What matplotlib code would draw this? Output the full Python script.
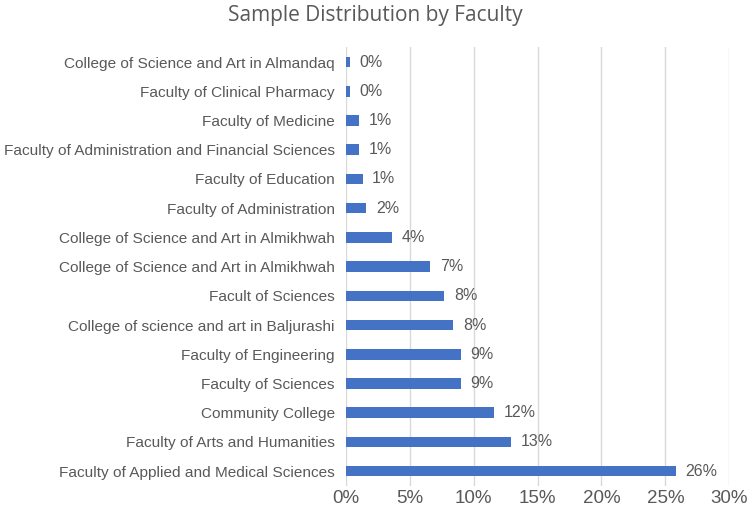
import matplotlib
matplotlib.use("Agg")
import matplotlib.pyplot as plt
from matplotlib.ticker import FuncFormatter, MultipleLocator

plt.rcParams["font.family"] = ["Liberation Sans", "DejaVu Sans"]

faculties = [
    "Faculty of Applied and Medical Sciences",
    "Faculty of Arts and Humanities",
    "Community College",
    "Faculty of Sciences",
    "Faculty of Engineering",
    "College of science and art in Baljurashi",
    "Facult of Sciences",
    "College of Science and Art in Almikhwah",
    "College of Science and Art in Almikhwah",
    "Faculty of Administration",
    "Faculty of Education",
    "Faculty of Administration and Financial Sciences",
    "Faculty of Medicine",
    "Faculty of Clinical Pharmacy",
    "College of Science and Art in Almandaq",
]
shares = [25.8, 12.9, 11.6, 9.0, 9.0, 8.4, 7.7, 6.6, 3.6, 1.6, 1.3, 1.0, 1.0, 0.3, 0.3]

BAR_COLOR = "#4472C4"
TEXT_COLOR = "#595959"
GRID_COLOR = "#D9D9D9"

fig = plt.figure(figsize=(7.5, 5.24), dpi=100)
ax = fig.add_axes([0.4613, 0.073, 0.511, 0.8365])

y = list(range(len(faculties)))
ax.barh(y, shares, height=0.36, color=BAR_COLOR, zorder=3)

for yi, v in zip(y, shares):
    ax.text(v + 0.75, yi, f"{v:.0f}%", va="center", ha="left",
            fontsize=11.5, color=TEXT_COLOR)

ax.set_yticks(y)
ax.set_yticklabels(faculties, fontsize=11.1, color=TEXT_COLOR)
ax.set_ylim(-0.5, len(faculties) - 0.5)

ax.set_xlim(0, 30)
ax.xaxis.set_major_locator(MultipleLocator(5))
ax.xaxis.set_major_formatter(FuncFormatter(lambda v, _: f"{v:.0f}%"))
ax.tick_params(axis="x", labelsize=13.5, colors=TEXT_COLOR, length=0, pad=3)
ax.tick_params(axis="y", length=0, pad=8)

ax.grid(True, axis="x", color=GRID_COLOR, linewidth=1, zorder=0)
ax.set_axisbelow(True)
for s in ax.spines.values():
    s.set_visible(False)

fig.suptitle("Sample Distribution by Faculty", fontsize=15, color=TEXT_COLOR,
             y=0.99, family=["Open Sans", "DejaVu Sans"])

fig.savefig("out.png", dpi=100)
